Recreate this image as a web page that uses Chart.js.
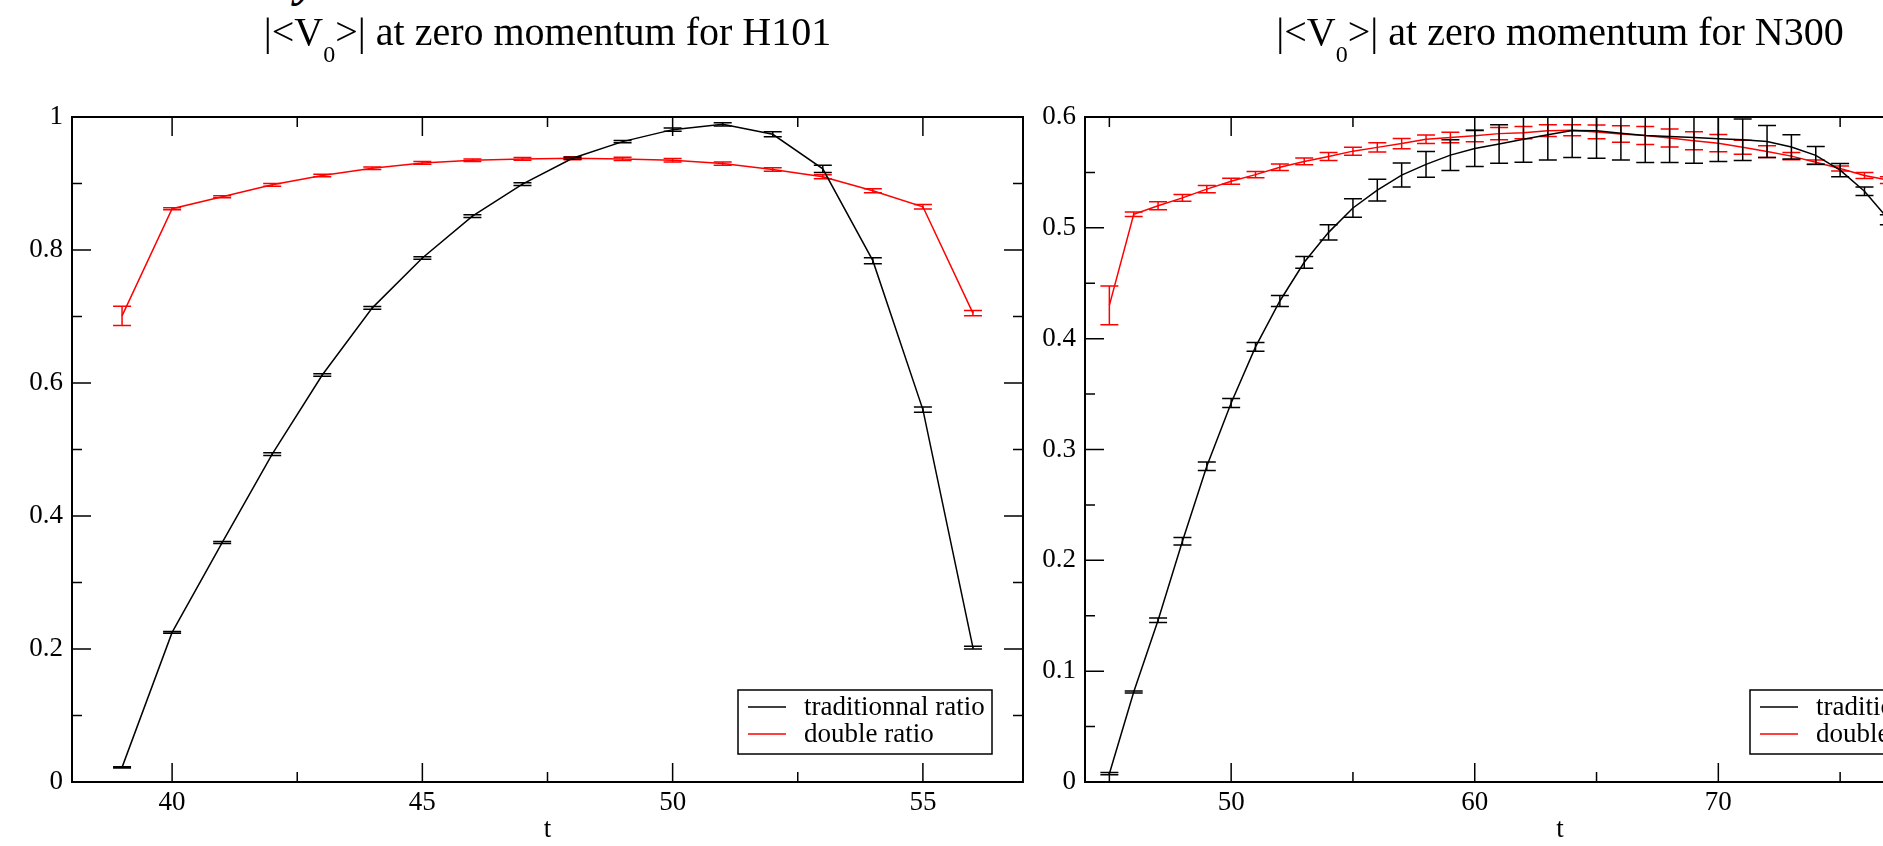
<!DOCTYPE html>
<html>
<head>
<meta charset="utf-8">
<title>|&lt;V0&gt;| at zero momentum</title>
<script src="https://cdn.jsdelivr.net/npm/chart.js@4.4.1/dist/chart.umd.min.js"></script>
<style>
  html, body { margin: 0; padding: 0; background: #fff; }
  #stage { position: relative; width: 1883px; height: 846px; overflow: hidden;
           font-family: "Liberation Serif", "Times New Roman", serif; color: #000; }
  #stage canvas { position: absolute; top: 0; }
  #leftChart { left: 0; }
  #rightChart { left: 1000px; }
  .title { position: absolute; top: 12px; font-size: 40px; line-height: 1; white-space: nowrap;
           transform: translateX(-50%); }
  .title sub { font-size: 24px; vertical-align: -17px; line-height: 0; }
  #cutTitle { position: absolute; left: 296px; top: -44px; font-size: 48px; line-height: 1;
              font-weight: bold; font-style: italic; }
</style>
</head>
<body>
<div id="stage">
  <div id="cutTitle">y</div>
  <canvas id="leftChart" width="1040" height="846" style="width:1040px;height:846px"></canvas>
  <canvas id="rightChart" width="1100" height="846" style="width:1100px;height:846px"></canvas>
  <div class="title" id="titleLeft">|&lt;V<sub>0</sub>&gt;| at zero momentum for H101</div>
  <div class="title" id="titleRight">|&lt;V<sub>0</sub>&gt;| at zero momentum for N300</div>
</div>
<script>
// series labels / colours
const seriesLabels = ['traditionnal ratio', 'double ratio'];
const seriesColors = ['#000000', '#ff0000'];

// H101 (left panel)
const tLeft = [39, 40, 41, 42, 43, 44, 45, 46, 47, 48, 49, 50, 51, 52, 53, 54, 55, 56];
const tradLeft = [0.022, 0.225, 0.360, 0.493, 0.612, 0.713, 0.788, 0.851, 0.899, 0.938,
                  0.963, 0.981, 0.989, 0.974, 0.922, 0.784, 0.560, 0.202];
const tradLeftErr = [0.001, 0.0015, 0.0015, 0.002, 0.002, 0.002, 0.002, 0.002, 0.002, 0.0015,
                     0.0018, 0.0025, 0.0025, 0.0038, 0.0053, 0.0045, 0.004, 0.002];
const dblLeft = [0.701, 0.862, 0.880, 0.898, 0.912, 0.923, 0.931, 0.935, 0.937, 0.938,
                 0.937, 0.935, 0.930, 0.921, 0.910, 0.889, 0.865, 0.705];
const dblLeftErr = [0.0145, 0.0015, 0.0015, 0.002, 0.002, 0.002, 0.002, 0.002, 0.002, 0.0023,
                    0.0023, 0.0025, 0.0025, 0.0025, 0.003, 0.003, 0.0033, 0.004];

// N300 (right panel)
const tRight = [45, 46, 47, 48, 49, 50, 51, 52, 53, 54, 55, 56, 57, 58, 59, 60, 61,
                62, 63, 64, 65, 66, 67, 68, 69, 70, 71, 72, 73, 74, 75, 76, 77];
const tradRight = [0.0075, 0.0812, 0.146, 0.2172, 0.2849, 0.342, 0.3926, 0.434, 0.4689, 0.4959,
                   0.5179, 0.5341, 0.5476, 0.5573, 0.5656, 0.5716, 0.5756, 0.580, 0.5839, 0.5878,
                   0.5875, 0.5854, 0.5833, 0.5824, 0.5815, 0.5803, 0.5794, 0.5779, 0.573, 0.5654,
                   0.552, 0.533, 0.5072];
const tradRightErr = [0.001, 0.001, 0.002, 0.0033, 0.0038, 0.004, 0.0039, 0.005, 0.0053, 0.0068,
                      0.0083, 0.0098, 0.0108, 0.0116, 0.0138, 0.0162, 0.0173, 0.0208, 0.0226, 0.0244,
                      0.0247, 0.0241, 0.0244, 0.0235, 0.0232, 0.0205, 0.0187, 0.0144, 0.011, 0.008,
                      0.006, 0.0038, 0.0045];
const dblRight = [0.430, 0.5122, 0.5199, 0.527, 0.5349, 0.5421, 0.548, 0.5546, 0.5599, 0.5644,
                  0.5692, 0.5726, 0.576, 0.5799, 0.5815, 0.583, 0.585, 0.5859, 0.5877, 0.588,
                  0.5865, 0.5847, 0.5833, 0.581, 0.5785, 0.5764, 0.5728, 0.5688, 0.5647, 0.5591,
                  0.5535, 0.5472, 0.543];
const dblRightErr = [0.0175, 0.002, 0.0036, 0.003, 0.0033, 0.0027, 0.0029, 0.0029, 0.003, 0.0036,
                     0.0036, 0.0042, 0.0047, 0.0038, 0.0048, 0.0053, 0.0056, 0.0056, 0.0053, 0.005,
                     0.0062, 0.0074, 0.0081, 0.0081, 0.0081, 0.0078, 0.0063, 0.0053, 0.0033, 0.002,
                     0.0022, 0.0027, 0.003];

// tick values
const xMajorLeft = [40, 45, 50, 55];
const xMinorLeft = [42.5, 47.5, 52.5];
const yMajorLeft = [0, 0.2, 0.4, 0.6, 0.8, 1];
const yMinorLeft = [0.1, 0.3, 0.5, 0.7, 0.9];
const xMajorRight = [50, 60, 70, 80];
const xMinorRight = [45, 55, 65, 75];
const yMajorRight = [0, 0.1, 0.2, 0.3, 0.4, 0.5, 0.6];
const yMinorRight = [0.05, 0.15, 0.25, 0.35, 0.45, 0.55];

Chart.defaults.font.family = '"Liberation Serif", "Times New Roman", serif';
Chart.defaults.color = '#000';

// per canvas: which ticks get drawn on the frame
const frameTicks = {
    leftChart: { xMajor: xMajorLeft, xMinor: xMinorLeft, yMajor: yMajorLeft, yMinor: yMinorLeft },
    rightChart: { xMajor: xMajorRight, xMinor: xMinorRight, yMajor: yMajorRight, yMinor: yMinorRight }
};

const pts = (ts, vs) => ts.map((t, i) => ({ x: t, y: vs[i] }));

// error bars, boxed frame with inward ticks, legend box
const gracePlugin = {
    id: 'grace',
    afterDatasetDraw(chart, args) {
        const ds = chart.data.datasets[args.index];
        if (!ds.errors) return;
        const { ctx, chartArea: a } = chart;
        const x = chart.scales.x, y = chart.scales.y;
        ctx.save();
        ctx.beginPath();
        ctx.rect(a.left, a.top, a.right - a.left, a.bottom - a.top);
        ctx.clip();
        ctx.strokeStyle = ds.borderColor;
        ctx.lineWidth = 1.5;
        ctx.beginPath();
        ds.data.forEach((p, i) => {
            const e = ds.errors[i];
            const px = x.getPixelForValue(p.x);
            const hi = y.getPixelForValue(p.y + e);
            const lo = y.getPixelForValue(p.y - e);
            ctx.moveTo(px, hi); ctx.lineTo(px, lo);
            ctx.moveTo(px - 9, hi); ctx.lineTo(px + 9, hi);
            ctx.moveTo(px - 9, lo); ctx.lineTo(px + 9, lo);
        });
        ctx.stroke();
        ctx.restore();
    },
    afterDraw(chart) {
        const spec = frameTicks[chart.canvas.id];
        const { ctx, chartArea: a } = chart;
        const x = chart.scales.x, y = chart.scales.y;
        ctx.save();
        ctx.strokeStyle = '#000';
        ctx.lineWidth = 1.5;
        ctx.beginPath();
        const xTick = (v, len) => {
            const px = x.getPixelForValue(v);
            ctx.moveTo(px, a.bottom); ctx.lineTo(px, a.bottom - len);
            ctx.moveTo(px, a.top); ctx.lineTo(px, a.top + len);
        };
        const yTick = (v, len) => {
            const py = y.getPixelForValue(v);
            ctx.moveTo(a.left, py); ctx.lineTo(a.left + len, py);
            ctx.moveTo(a.right, py); ctx.lineTo(a.right - len, py);
        };
        spec.xMajor.forEach(v => xTick(v, 19));
        spec.xMinor.forEach(v => xTick(v, 10));
        spec.yMajor.forEach(v => yTick(v, 19));
        spec.yMinor.forEach(v => yTick(v, 10));
        ctx.stroke();
        ctx.lineWidth = 2;
        ctx.strokeRect(a.left, a.top, a.right - a.left, a.bottom - a.top);

        // legend box, lower right corner of the plot area
        const bw = 254, bh = 64;
        const bx = a.right - 31 - bw, by = a.bottom - 28 - bh;
        ctx.fillStyle = '#fff';
        ctx.fillRect(bx, by, bw, bh);
        ctx.lineWidth = 1.5;
        ctx.strokeRect(bx, by, bw, bh);
        ctx.font = '27px "Liberation Serif", "Times New Roman", serif';
        ctx.textBaseline = 'middle';
        ctx.textAlign = 'left';
        chart.data.datasets.forEach((ds, i) => {
            const ry = by + 17 + i * 27;
            ctx.strokeStyle = ds.borderColor;
            ctx.beginPath();
            ctx.moveTo(bx + 10, ry); ctx.lineTo(bx + 48, ry);
            ctx.stroke();
            ctx.fillStyle = '#000';
            ctx.fillText(ds.label, bx + 66, ry + 1);
        });
        ctx.restore();
    }
};

function makeChart(canvasId, cfg) {
    return new Chart(document.getElementById(canvasId), {
        type: 'line',
        data: {
            datasets: [
                { label: seriesLabels[0], data: pts(cfg.t, cfg.trad), errors: cfg.tradErr,
                  borderColor: seriesColors[0] },
                { label: seriesLabels[1], data: pts(cfg.t, cfg.dbl), errors: cfg.dblErr,
                  borderColor: seriesColors[1] }
            ]
        },
        options: {
            responsive: false,
            animation: false,
            devicePixelRatio: 1,
            events: [],
            layout: { padding: { top: 117, right: cfg.padRight, bottom: 0, left: 0 } },
            elements: {
                line: { borderWidth: 1.5, tension: 0, fill: false },
                point: { radius: 0, hoverRadius: 0 }
            },
            plugins: { legend: { display: false }, tooltip: { enabled: false } },
            scales: {
                x: {
                    type: 'linear', min: cfg.xMin, max: cfg.xMax,
                    afterBuildTicks: s => { s.ticks = cfg.xMajor.map(v => ({ value: v })); },
                    afterFit: s => { s.height = 64; },
                    grid: { display: false, drawTicks: false },
                    border: { display: false },
                    ticks: { font: { size: 27 }, color: '#000', padding: 5, maxRotation: 0,
                             autoSkip: false, callback: v => String(v) },
                    title: { display: true, text: 't', font: { size: 27 }, color: '#000',
                             padding: { top: 0, bottom: 0 } }
                },
                y: {
                    type: 'linear', min: 0, max: cfg.yMax,
                    afterBuildTicks: s => { s.ticks = cfg.yMajor.map(v => ({ value: v })); },
                    afterFit: s => { s.width = cfg.yWidth; },
                    grid: { display: false, drawTicks: false },
                    border: { display: false },
                    ticks: { font: { size: 27 }, color: '#000', padding: 9, autoSkip: false,
                             callback: v => String(v) }
                }
            }
        },
        plugins: [gracePlugin]
    });
}

const leftChart = makeChart('leftChart', {
    t: tLeft, trad: tradLeft, tradErr: tradLeftErr, dbl: dblLeft, dblErr: dblLeftErr,
    xMin: 38, xMax: 57, yMax: 1, xMajor: xMajorLeft, yMajor: yMajorLeft,
    padRight: 17, yWidth: 72
});
const rightChart = makeChart('rightChart', {
    t: tRight, trad: tradRight, tradErr: tradRightErr, dbl: dblRight, dblErr: dblRightErr,
    xMin: 44, xMax: 83, yMax: 0.6, xMajor: xMajorRight, yMajor: yMajorRight,
    padRight: 65, yWidth: 85
});

// centre the titles over each plot area
function placeTitle(id, chart, offset) {
    const a = chart.chartArea;
    document.getElementById(id).style.left = (offset + (a.left + a.right) / 2) + 'px';
}
placeTitle('titleLeft', leftChart, 0);
placeTitle('titleRight', rightChart, 1000);
</script>
</body>
</html>
